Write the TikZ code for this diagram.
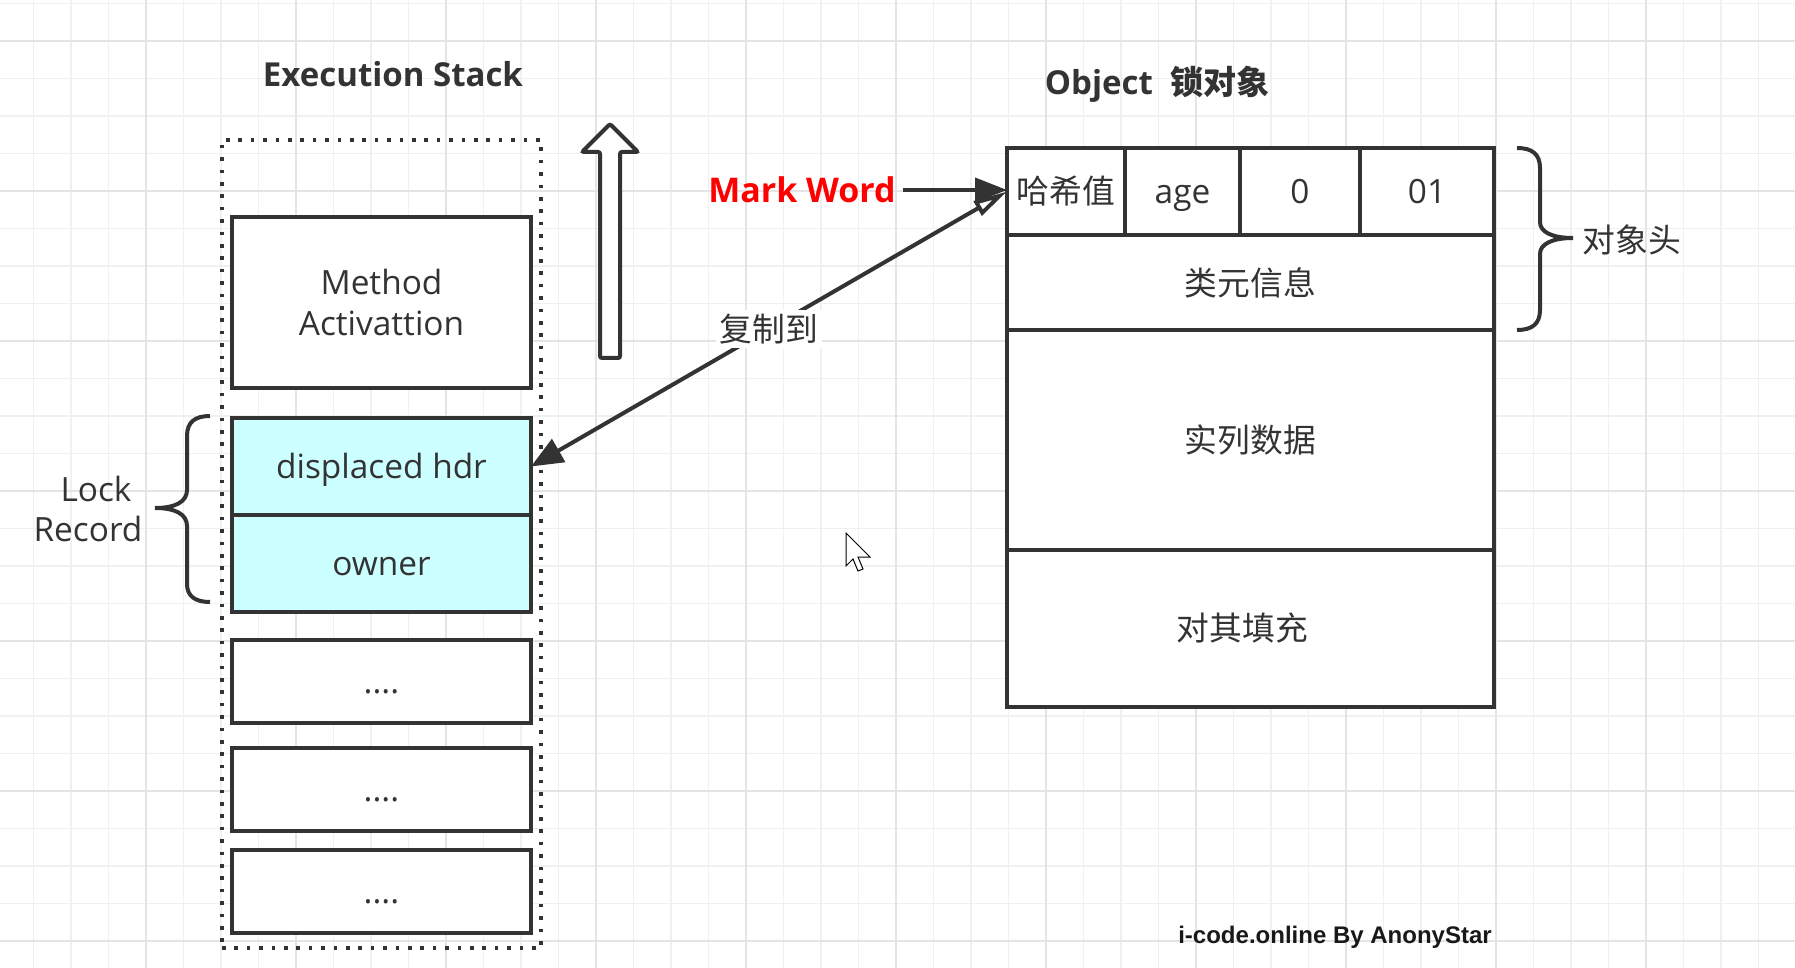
\documentclass[tikz,border=0pt]{standalone}
\usepackage{fontspec}
\setmainfont{Open Sans}
\newfontfamily\cjk{Noto Sans CJK SC}
\newfontfamily\wmfont{Liberation Sans}
\usepackage{tikz}
\usetikzlibrary{positioning,arrows.meta}
\definecolor{ink}{HTML}{333333}
\definecolor{gridMinor}{HTML}{F0F0F0}
\definecolor{gridMajor}{HTML}{E4E4E4}
\definecolor{lockFill}{HTML}{CCFFFF}
\definecolor{markRed}{HTML}{FF0000}
\tikzset{
    cellbox/.style={
        draw=ink,
        fill=white,
        rectangle,
        line width=2pt,
        inner sep=0pt,
        outer sep=0pt,
        align=center,
        text=ink,
        font=\fontsize{16.7}{20.5}\selectfont
    },
    oneline/.style={
        text height=14pt,
        text depth=2pt
    },
    stackbox/.style={
        cellbox,
        minimum width=149.5pt
    },
    lockbox/.style={
        stackbox,
        oneline,
        fill=lockFill,
        minimum height=48.5pt
    },
    dotbox/.style={
        stackbox,
        oneline,
        minimum height=41.5pt
    },
    objbox/.style={
        cellbox,
        font=\fontsize{16.4}{20}\selectfont\cjk
    },
    objrow/.style={
        objbox,
        minimum width=243.5pt,
        anchor=north west
    },
    headtxt/.style={
        font=\fontsize{16.5}{20}\selectfont\bfseries,
        text=ink
    },
    ptr/.style={
        -{Triangle[length=16pt,width=12pt]},
        line width=2pt,
        draw=ink
    },
    copyline/.style={
        {Triangle[open,length=17pt,width=8pt]}-{Triangle[length=16pt,width=13pt]},
        line width=2pt,
        draw=ink
    },
    curly/.style={
        line width=2pt,
        draw=ink
    },
    lbl/.style={
        font=\fontsize{16.4}{20}\selectfont\cjk,
        text=ink,
        midway,
        fill=white,
        inner sep=2pt
    }
}

\begin{document}
\begin{tikzpicture}[x=0.5pt,y=-0.5pt]
    % background grid
    \fill[white] (0,0) rectangle (1795,968);
    \useasboundingbox (0,0) rectangle (1795,968);
    \foreach \gx in {0,...,47}
        \draw[gridMinor, line width=0.6pt] ({33.5+37.5*\gx},0) -- ({33.5+37.5*\gx},968);
    \foreach \gy in {0,...,25}
        \draw[gridMinor, line width=0.6pt] (0,{3.5+37.5*\gy}) -- (1795,{3.5+37.5*\gy});
    \foreach \gx in {0,...,11}
        \draw[gridMajor, line width=1pt] ({146+150*\gx},0) -- ({146+150*\gx},968);
    \foreach \gy in {0,...,6}
        \draw[gridMajor, line width=1pt] (0,{41+150*\gy}) -- (1795,{41+150*\gy});

    % Execution Stack
    \node[headtxt] (exectitle) at (393,74) {Execution Stack};
    \node[draw=ink, line width=1.8pt, dash pattern=on 1.8pt off 4.4pt,
          minimum width=159.5pt, minimum height=404pt, inner sep=0pt] (stack) at (381.5,544) {};
    \node[stackbox, minimum height=85.5pt] (method) at (381.5,302.5) {Method\\Activattion};
    \node[lockbox, below=15pt of method] (dhdr) {displaced hdr};
    \node[lockbox, below=0pt of dhdr] (owner) {owner};
    \node[dotbox, below=14pt of owner] (dotsa) {....};
    \node[dotbox, below=12.5pt of dotsa] (dotsb) {....};
    \node[dotbox, below=9.5pt of dotsb] (dotsc) {....};

    % Lock Record brace
    \draw[curly] (210,416) .. controls (195,416) and (187,422) .. (187,436) -- (187,490)
        .. controls (187,502) and (175,508) .. (155,508)
        .. controls (175,508) and (187,514) .. (187,526) -- (187,584)
        .. controls (187,596) and (195,602) .. (210,602);
    \node[text=ink, align=center, font=\fontsize{16.7}{20}\selectfont] (lockrec) at (88,509) {\hspace*{8pt}Lock\\Record};

    % growth arrow
    \draw[ink, line width=2pt, fill=white, rounded corners=1pt]
        (600,358) -- (620,358) -- (620,152) -- (638,152) -- (610,124)
        -- (582,152) -- (600,152) -- cycle;

    % Object
    \node[headtxt] (objtitle) at (1157,84) {Object\ \ {\cjk 锁对象}};
    \node[objbox, minimum width=59pt, minimum height=43.5pt] (hash) at (1066,191.5) {哈希值};
    \node[cellbox, oneline, minimum width=57.5pt, minimum height=43.5pt, right=0pt of hash] (age) {age};
    \node[cellbox, oneline, minimum width=60pt, minimum height=43.5pt, right=0pt of age] (zero) {0};
    \node[cellbox, oneline, minimum width=67pt, minimum height=43.5pt, right=0pt of zero] (flag) {01};
    \node[objrow, minimum height=47.5pt] (klass) at (hash.south west) {类元信息};
    \node[objrow, minimum height=110pt] (inst) at (klass.south west) {实列数据};
    \node[objrow, minimum height=78.5pt] (pad) at (inst.south west) {对其填充\hspace*{8pt}};

    % header brace
    \draw[curly] (1517,148) .. controls (1532,148) and (1540,154) .. (1540,168) -- (1540,222)
        .. controls (1540,232) and (1552,238) .. (1573,238)
        .. controls (1552,238) and (1540,244) .. (1540,254) -- (1540,310)
        .. controls (1540,324) and (1532,330) .. (1517,330);
    \node[text=ink, font=\fontsize{16.4}{20}\selectfont\cjk] (objhead) at (1632,240) {对象头};

    % Mark Word
    \node[headtxt, text=markRed, font=\fontsize{17}{20}\selectfont\bfseries] (mw) at (802,190) {Mark Word};
    \draw[ptr] (mw.east) -- (mw.east -| hash.west);
    \draw[copyline] (hash.west) -- node[lbl] (copylbl) {复制到} (dhdr.east);

    % mouse pointer
    \draw[black, line width=0.5pt, fill=white]
        (846,533) -- (846,566) -- (853,559) -- (858,571) -- (863,569)
        -- (858,557) -- (870,557) -- cycle;

    % watermark
    \node[text=black!90, font=\wmfont\bfseries\fontsize{12}{14}\selectfont] (mark) at (1335,937) {i-code.online By AnonyStar};
\end{tikzpicture}
\end{document}
